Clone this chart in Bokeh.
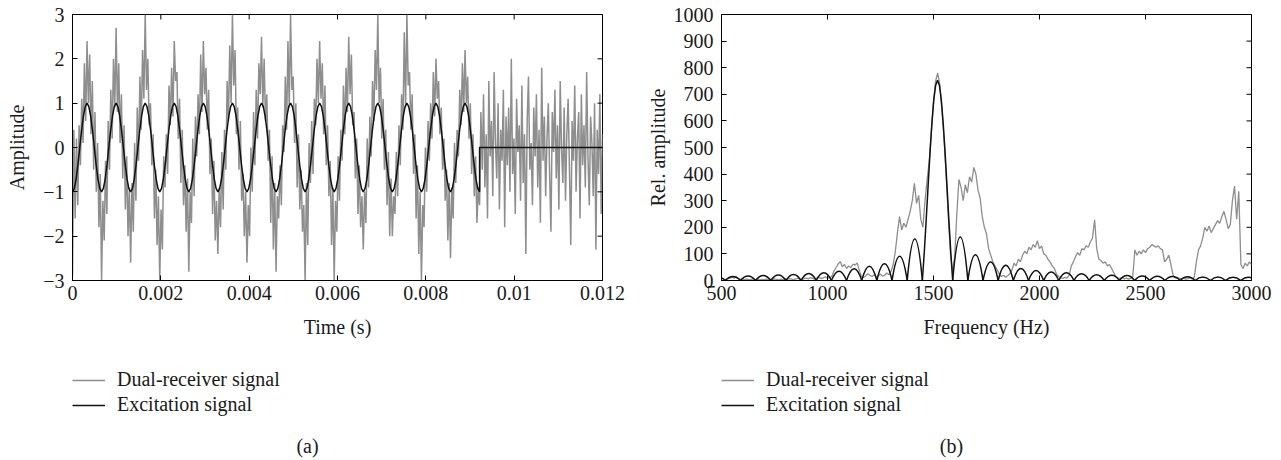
from bokeh.plotting import figure
from bokeh.models import Range1d, FixedTicker, Legend, LegendItem, Label
from bokeh.layouts import row, column
from bokeh.embed import file_html
from bokeh.resources import INLINE
import numpy as np

# ---------------- data: panel (a), time record ----------------
RECORD_END = 0.012            # s, end of time axis
DT = 0.012 / 401              # s, sample interval of the received record
# dual-receiver signal, one value per sample
RX_SIGNAL = [
    -2.9, 0.4, -1.6, 0.2, -1.3, 0.5, -0.4, 1.1, 0.1, 1.9, 0.6, 2.4, 1.0, 2.1, 0.3, 1.5, -0.5, 0.8, -1.0, 0.1, -1.8, -0.6,
    -3.0, -1.2, -2.1, -0.3, -1.5, 0.6, -0.5, 1.3, 0.2, 2.0, 0.9, 2.7, 0.8, 1.9, 0.1, 1.2, -0.7, 0.5, -1.4, -0.2, -2.0, -0.9,
    -2.6, -0.8, -1.9, 0.1, -1.2, 0.9, -0.3, 1.6, 0.4, 2.2, 1.1, 3.0, 1.3, 2.0, 0.5, 1.0, -0.4, 0.3, -1.6, -0.5, -2.2, -1.1,
    -3.0, -1.4, -2.3, -0.2, -0.9, 0.3, -0.6, 1.4, 0.5, 1.8, 0.7, 2.4, 1.5, 1.7, 0.2, 1.1, -0.8, 0.4, -1.3, -0.4, -1.9, -0.7,
    -2.8, -1.0, -1.7, 0.2, -1.1, 0.7, -0.2, 1.2, 0.3, 2.1, 0.8, 2.4, 1.2, 1.8, 0.4, 1.3, -0.6, 0.2, -1.5, -0.3, -2.1, -1.2,
    -2.4, -0.9, -1.8, -0.1, -1.4, 0.4, -0.5, 1.5, 0.6, 2.3, 1.0, 3.0, 1.4, 2.2, 0.3, 0.9, -0.5, 0.6, -1.2, -0.6, -2.0, -1.0,
    -2.6, -1.3, -2.0, 0.0, -1.0, 0.8, -0.4, 1.3, 0.2, 1.9, 1.2, 2.5, 0.9, 2.0, 0.6, 1.2, -0.3, 0.4, -1.7, -0.2, -2.3, -0.8,
    -2.8, -1.1, -1.6, -0.4, -1.3, 0.5, -0.1, 1.6, 0.4, 2.4, 0.9, 3.0, 1.3, 1.6, 0.1, 1.0, -0.9, 0.3, -1.4, -0.5, -1.9, -1.3,
    -3.0, -0.8, -2.2, 0.1, -0.8, 0.6, -0.6, 1.1, 0.5, 2.0, 1.0, 2.4, 1.1, 1.9, 0.3, 1.4, -0.4, 0.5, -1.1, -0.3, -2.2, -0.9,
    -3.0, -1.2, -1.9, -0.2, -1.2, 0.4, -0.3, 1.4, 0.3, 1.8, 0.8, 2.5, 1.2, 2.1, 0.5, 0.8, -0.7, 0.2, -1.5, -0.4, -1.8, -1.1,
    -2.3, -1.0, -1.7, 0.2, -0.9, 0.7, -0.2, 1.5, 0.6, 2.2, 1.3, 3.0, 1.0, 1.8, 0.2, 1.1, -0.5, 0.4, -1.3, -0.1, -2.0, -0.7,
    -2.0, -1.1, -1.5, -0.1, -1.1, 0.5, -0.4, 1.2, 0.4, 2.6, 0.9, 3.0, 1.4, 1.7, 0.4, 1.2, -0.6, 0.3, -1.6, -0.4, -2.4, -1.0,
    -3.0, -1.3, -1.8, 0.0, -1.0, 0.6, -0.3, 1.0, 0.2, 1.7, 0.7, 2.0, 1.1, 1.5, 0.3, 0.9, -0.5, 0.2, -1.2, -0.5, -2.1, -0.8,
    -2.5, -0.9, -1.6, 0.1, -0.8, 0.4, -0.2, 1.3, 0.5, 1.9, 0.8, 2.2, 1.0, 1.6, 0.2, 1.0, -0.6, 0.3, -1.1, -0.2, -1.7, -0.9,
    -1.3, 0.8, -0.5, 1.2, -0.9, 0.3, -1.6, 1.5, -0.2, 0.6,
    -1.1, 1.7, 0.1, -0.7, 1.0, -1.4, 0.4, -0.3, 1.3, -1.8,
    0.7, -0.4, 0.9, -1.0, 2.0, -0.6, 0.2, -1.5, 1.1, -0.1,
    0.5, -1.2, 1.4, -0.8, 0.3, -2.4, 0.6, 1.6, -0.5, 0.1,
    -1.3, 0.9, -0.2, 1.2, -0.9, 0.4, -1.7, 1.8, -0.3, 0.7,
    -1.1, 0.2, 1.0, -0.6, -1.9, 0.8, -0.1, 1.3, -0.7, 0.5,
    -1.4, 1.5, 0.0, -0.8, 0.9, -1.2, 0.3, 1.1, -0.5, -2.2,
    0.6, -0.3, 1.4, -1.0, 0.2, 0.8, -1.6, 1.2, -0.4, 0.5,
    -0.9, 1.7, -0.2, -1.3, 0.7, 0.1, -1.1, 1.0, -2.3, 0.4,
    -0.6, 1.2, -1.5, 0.3,
]
# excitation signal: 14 cycles, 16 readings per cycle, then switched off (0)
EXC_STEP = 22 * DT / 16
EXCITATION = [
    -1, -0.924, -0.707, -0.383, 0, 0.383, 0.707, 0.924, 1, 0.924, 0.707, 0.383, 0, -0.383, -0.707, -0.924,
    -1, -0.924, -0.707, -0.383, 0, 0.383, 0.707, 0.924, 1, 0.924, 0.707, 0.383, 0, -0.383, -0.707, -0.924,
    -1, -0.924, -0.707, -0.383, 0, 0.383, 0.707, 0.924, 1, 0.924, 0.707, 0.383, 0, -0.383, -0.707, -0.924,
    -1, -0.924, -0.707, -0.383, 0, 0.383, 0.707, 0.924, 1, 0.924, 0.707, 0.383, 0, -0.383, -0.707, -0.924,
    -1, -0.924, -0.707, -0.383, 0, 0.383, 0.707, 0.924, 1, 0.924, 0.707, 0.383, 0, -0.383, -0.707, -0.924,
    -1, -0.924, -0.707, -0.383, 0, 0.383, 0.707, 0.924, 1, 0.924, 0.707, 0.383, 0, -0.383, -0.707, -0.924,
    -1, -0.924, -0.707, -0.383, 0, 0.383, 0.707, 0.924, 1, 0.924, 0.707, 0.383, 0, -0.383, -0.707, -0.924,
    -1, -0.924, -0.707, -0.383, 0, 0.383, 0.707, 0.924, 1, 0.924, 0.707, 0.383, 0, -0.383, -0.707, -0.924,
    -1, -0.924, -0.707, -0.383, 0, 0.383, 0.707, 0.924, 1, 0.924, 0.707, 0.383, 0, -0.383, -0.707, -0.924,
    -1, -0.924, -0.707, -0.383, 0, 0.383, 0.707, 0.924, 1, 0.924, 0.707, 0.383, 0, -0.383, -0.707, -0.924,
    -1, -0.924, -0.707, -0.383, 0, 0.383, 0.707, 0.924, 1, 0.924, 0.707, 0.383, 0, -0.383, -0.707, -0.924,
    -1, -0.924, -0.707, -0.383, 0, 0.383, 0.707, 0.924, 1, 0.924, 0.707, 0.383, 0, -0.383, -0.707, -0.924,
    -1, -0.924, -0.707, -0.383, 0, 0.383, 0.707, 0.924, 1, 0.924, 0.707, 0.383, 0, -0.383, -0.707, -0.924,
    -1, -0.924, -0.707, -0.383, 0, 0.383, 0.707, 0.924, 1, 0.924, 0.707, 0.383, 0, -0.383, -0.707, -0.924,
    -1,
]
EXC_OFF_LEVEL = 0

T_TICKS = [0, 0.002, 0.004, 0.006, 0.008, 0.01, 0.012]
T_LABELS = ["0", "0.002", "0.004", "0.006", "0.008", "0.01", "0.012"]
A_TICKS = [-3, -2, -1, 0, 1, 2, 3]
A_LABELS = ["\u22123", "\u22122", "\u22121", "0", "1", "2", "3"]

# ---------------- data: panel (b), spectra ----------------
F_START, F_STEP = 500, 10     # Hz, grid of the receiver spectrum
RX_SPECTRUM = [
    8, 5, 3, 6, 10, 12, 9, 14, 7, 4,
    6, 3, 5, 2, 4, 6, 3, 5, 2, 4,
    3, 5, 2, 4, 3, 6, 4, 2, 5, 3,
    6, 4, 7, 5, 3, 6, 8, 5, 3, 7,
    9, 6, 11, 8, 5, 9, 12, 7, 10, 14,
    8, 11, 15, 35, 48, 62, 71, 52, 60, 45,
    55, 48, 62, 58, 66, 38, 14, 12, 18, 25,
    20, 15, 22, 12, 18, 24, 16, 20, 28, 22,
    35, 60, 110, 180, 240, 190, 215, 200, 230, 260,
    300, 365, 290, 320, 230, 200, 300, 380, 450, 560,
    670, 750, 780, 735, 640, 530, 390, 240, 100, 30,
    90, 250, 380, 350, 300, 360, 330, 390, 370, 425,
    400, 340, 310, 240, 200, 175, 120, 95, 70, 55,
    40, 25, 15, 20, 12, 18, 25, 40, 65, 55,
    80, 70, 95, 110, 100, 125, 115, 135, 125, 150,
    120, 130, 100, 95, 80, 70, 55, 45, 25, 15,
    10, 8, 12, 9, 20, 55, 70, 90, 105, 95,
    120, 115, 130, 125, 145, 160, 228, 120, 80, 75,
    65, 70, 55, 60, 45, 30, 15, 10, 8, 12,
    6, 9, 5, 8, 15, 115, 95, 110, 100, 115,
    105, 120, 125, 135, 130, 125, 130, 120, 115, 70,
    80, 95, 60, 20, 10, 12, 8, 6, 9, 5,
    7, 10, 6, 12, 70, 115, 130, 160, 200, 185,
    205, 180, 195, 210, 225, 215, 240, 260, 230, 195,
    210, 300, 355, 230, 335, 60, 45, 65, 55, 70,
    60,
]
# excitation spectrum: main lobe readings
MAIN_F = [1447.5, 1456.4, 1465.4, 1474.4, 1483.4, 1492.3, 1501.1, 1510.1, 1519.0,
          1527.9, 1536.9, 1545.8, 1554.8, 1563.7, 1572.6, 1581.6, 1590.5]
MAIN_A = [0, 105, 226, 354, 479, 590, 678, 734, 753, 734, 678, 590, 479, 354, 226, 105, 0]
# side lobes: zero crossings and lobe heights
LEFT_NULLS = [446.5, 518, 589.5, 661, 732.5, 804, 875.5, 947, 1018.5, 1090, 1161.5, 1233, 1304.5, 1376, 1447.5]
LEFT_PEAKS = [14, 15, 17, 19, 21, 23, 26, 29, 35, 44, 54, 63, 91, 156]
RIGHT_NULLS = [1590.5, 1662, 1733.5, 1805, 1876.5, 1948, 2019.5, 2091, 2162.5, 2234, 2305.5,
               2377, 2448.5, 2520, 2591.5, 2663, 2734.5, 2806, 2877.5, 2949, 3020.5]
RIGHT_PEAKS = [164, 97, 70, 57, 45, 38, 32, 29, 25, 22, 20, 19, 17, 16, 15, 14, 13, 13, 12, 12]

F_TICKS = [500, 1000, 1500, 2000, 2500, 3000]
R_TICKS = [0, 100, 200, 300, 400, 500, 600, 700, 800, 900, 1000]

LEGEND_LABELS = ["Dual-receiver signal", "Excitation signal"]

# ---------------- styling ----------------
FONT = "Liberation Serif"
FS = "20px"
GRAY = "#8e8e8e"
BLACK = "#111111"
TXT = "#1a1a1a"
MAIN_H = 340      # height of a plotting figure
LEG_H = 460 - MAIN_H


def frame_axes(p, xt, yt, x_right, y_top, xlabels=None, ylabels=None):
    p.xgrid.visible = False
    p.ygrid.visible = False
    p.outline_line_color = "black"
    p.outline_line_width = 1
    p.xaxis.ticker = FixedTicker(ticks=xt)
    p.yaxis.ticker = FixedTicker(ticks=yt)
    if xlabels:
        p.xaxis.major_label_overrides = dict(zip(xt, xlabels))
    if ylabels:
        p.yaxis.major_label_overrides = dict(zip(yt, ylabels))
    for ax in (p.xaxis[0], p.yaxis[0]):
        ax.major_tick_in = 5
        ax.major_tick_out = 0
        ax.minor_tick_line_color = None
        ax.axis_line_color = "black"
        ax.major_tick_line_color = "black"
        ax.major_label_text_font = FONT
        ax.major_label_text_font_size = FS
        ax.major_label_text_color = TXT
        ax.axis_label_text_font = FONT
        ax.axis_label_text_font_size = FS
        ax.axis_label_text_font_style = "normal"
        ax.axis_label_text_color = TXT
    p.xaxis.major_label_standoff = 5
    p.yaxis.major_label_standoff = 8
    p.xaxis.axis_label_standoff = 13
    # inward ticks on the top and right edges of the box (outer half is clipped)
    p.scatter(x=xt, y=[y_top] * len(xt), marker="dash", size=10,
              angle=np.pi / 2, line_color="black", line_width=1)
    p.scatter(x=[x_right] * len(yt), y=yt, marker="dash", size=10,
              line_color="black", line_width=1)


def legend_figure(width, cap_x, caption):
    # the frame of this figure is aligned with the frame of the plot above it
    q = figure(width=width, height=LEG_H, min_border=0, x_range=Range1d(0, 1), y_range=Range1d(0, 1),
               x_axis_location=None, y_axis_location=None, output_backend="svg",
               toolbar_location=None)
    q.grid.visible = False
    q.outline_line_color = None
    r1 = q.line(x=[np.nan], y=[np.nan], line_color=GRAY, line_width=1.5)
    r2 = q.line(x=[np.nan], y=[np.nan], line_color=BLACK, line_width=1.5)
    leg = Legend(items=[LegendItem(label=LEGEND_LABELS[0], renderers=[r1], index=0),
                        LegendItem(label=LEGEND_LABELS[1], renderers=[r2], index=0)],
                 location=(0, 44), orientation="vertical",
                 border_line_color=None, background_fill_alpha=0,
                 label_text_font=FONT, label_text_font_size=FS, label_text_color=TXT,
                 glyph_width=33, glyph_height=20, label_standoff=12, label_height=20,
                 padding=0, margin=0, spacing=2)
    q.add_layout(leg)
    lab = Label(x=cap_x, y=15, x_units="screen", y_units="screen", text=caption,
                text_font=FONT, text_font_size=FS, text_color=TXT,
                text_align="center", text_baseline="middle")
    q.add_layout(lab)
    return q


# ---------------- panel (a) ----------------
pa = figure(width=640, height=MAIN_H, min_border_left=72, min_border_right=38,
            min_border_top=14, min_border_bottom=MAIN_H - 281, output_backend="svg",
            toolbar_location=None, x_range=Range1d(0, RECORD_END), y_range=Range1d(-3, 3))
t_rx = np.arange(len(RX_SIGNAL)) * DT
pa.line(t_rx, RX_SIGNAL, line_color=GRAY, line_width=1.5)
t_exc = np.arange(len(EXCITATION)) * EXC_STEP
t_exc_all = list(t_exc) + [t_exc[-1], RECORD_END]
v_exc_all = list(EXCITATION) + [EXC_OFF_LEVEL, EXC_OFF_LEVEL]
pa.line(t_exc_all, v_exc_all, line_color=BLACK, line_width=1.5)
frame_axes(pa, T_TICKS, A_TICKS, RECORD_END, A_TICKS[-1], T_LABELS, A_LABELS)
pa.xaxis.axis_label = "Time (s)"
pa.yaxis.axis_label = "Amplitude"
pa.yaxis.axis_label_standoff = 12
la = legend_figure(640, 235, "(a)")

# ---------------- panel (b) ----------------
pb = figure(width=641, height=MAIN_H, min_border_left=81, min_border_right=30,
            min_border_top=14, min_border_bottom=MAIN_H - 281, output_backend="svg",
            toolbar_location=None, x_range=Range1d(500, 3000), y_range=Range1d(0, 1000))
f_rx = F_START + np.arange(len(RX_SPECTRUM)) * F_STEP
pb.line(f_rx, RX_SPECTRUM, line_color=GRAY, line_width=1.3)
pb.line(MAIN_F, MAIN_A, line_color=BLACK, line_width=1.5)
for nulls, peaks in ((LEFT_NULLS, LEFT_PEAKS), (RIGHT_NULLS, RIGHT_PEAKS)):
    x0 = np.array(nulls[:-1])
    x1 = np.array(nulls[1:])
    h = np.array(peaks, dtype=float)
    pb.quadratic(x0=x0, y0=0 * h, x1=x1, y1=0 * h, cx=(x0 + x1) / 2, cy=2 * h,
                 line_color=BLACK, line_width=1.5)
frame_axes(pb, F_TICKS, R_TICKS, F_TICKS[-1], R_TICKS[-1])
pb.xaxis.axis_label = "Frequency (Hz)"
pb.yaxis.axis_label = "Rel. amplitude"
pb.yaxis.axis_label_standoff = 2
lb = legend_figure(641, 230, "(b)")

layout = row(column(pa, la), column(pb, lb))
open("out.html", "w").write(file_html(layout, INLINE))
